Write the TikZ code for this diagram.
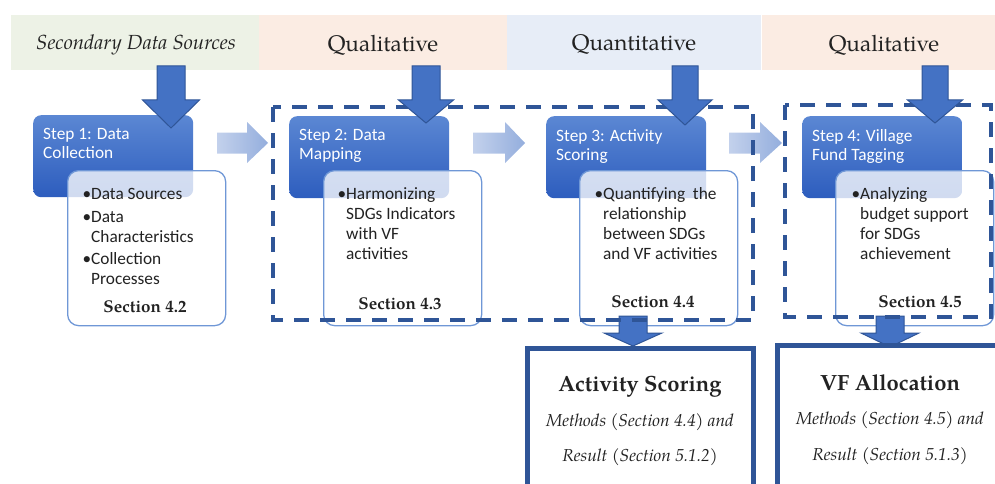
\documentclass[tikz,border=0pt]{standalone}
\usepackage{fontspec}
\newfontfamily\calib{Carlito}
\newfontfamily\palfont{TeX Gyre Pagella}
\definecolor{bandgreen}{HTML}{EDF2E6}
\definecolor{bandpeach}{HTML}{FBECE3}
\definecolor{bandblue}{HTML}{E7EDF7}
\definecolor{arrowblue}{HTML}{4472C4}
\definecolor{arrowedge}{HTML}{2F5597}
\definecolor{steptop}{HTML}{5B87D3}
\definecolor{stepbot}{HTML}{2D5DBE}
\definecolor{wbord}{HTML}{6F97D6}
\definecolor{dashblue}{HTML}{2F5597}
\definecolor{lighta}{HTML}{C3D1EC}
\definecolor{lightb}{HTML}{94AEDD}
\definecolor{txt}{HTML}{222222}
\tikzset{
  band/.style={draw=none, minimum height=55, inner sep=0, anchor=north west},
  headtext/.style={font=\palfont\fontsize{22.5}{26}\selectfont, text=txt},
  stepbox/.style={rounded corners=8, top color=steptop, bottom color=stepbot, draw=none,
     minimum width=160, minimum height=82, anchor=north west, inner sep=0},
  steptext/.style={font=\calib\fontsize{17.3}{19}\selectfont, text=white, align=left, anchor=north west, inner sep=0},
  whitebox/.style={rounded corners=11, fill=white, fill opacity=0.78, draw=wbord, line width=1.3,
     minimum width=158, minimum height=155, anchor=north west, inner sep=0},
  listtext/.style={font=\calib\fontsize{17.3}{20}\selectfont, text=txt, align=left, anchor=north west, inner sep=0},
  seclabel/.style={font=\palfont\bfseries\fontsize{17}{20}\selectfont, text=txt, inner sep=0},
  lightarrow/.style={left color=lighta, right color=lightb, draw=none},
  darrow/.style={fill=arrowblue, draw=arrowedge, line width=1},
  dashbox/.style={draw=dashblue, line width=4, dash pattern=on 15 off 11},
  resbox/.style={draw=dashblue, line width=5, fill=white},
  restitle/.style={font=\palfont\bfseries\fontsize{22}{26}\selectfont, text=txt, inner sep=0},
  resital/.style={font=\palfont\itshape\fontsize{17.3}{20}\selectfont, text=txt, inner sep=0},
}
\newcommand\bul{\makebox[8.7pt][l]{•}}
\newcommand\myDarrow[6]{%
  \draw[darrow] ({#1-#5},#2) -- ({#1+#5},#2) -- ({#1+#5},#3) -- ({#1+#6},#3) -- (#1,#4)
     -- ({#1-#6},#3) -- ({#1-#5},#3) -- cycle;}
\newcommand\myHarrow[4]{%
  \path[lightarrow] (#1,{#4-10.5}) -- (#2,{#4-10.5}) -- (#2,{#4-21}) -- (#3,#4) -- (#2,{#4+20})
     -- (#2,{#4+10.5}) -- (#1,{#4+10.5}) -- cycle;}
\begin{document}
\begin{tikzpicture}[x=1pt,y=-1pt]
\useasboundingbox (0,0) rectangle (995,484);
\clip (0,0) rectangle (995,484);
% header bands
\node[band, fill=bandgreen, minimum width=248] (b1) at (11,15) {};
\node[band, fill=bandpeach, minimum width=248] (b2) at (259,15) {};
\node[band, fill=bandblue, minimum width=254] (b3) at (507,15) {};
\node[band, fill=bandpeach, minimum width=236] (b4) at (762,15) {};
\node[headtext, font=\palfont\itshape\fontsize{20.4}{26}\selectfont] (h1) at (136,45) {Secondary Data Sources};
\node[headtext] (h2) at (383,45) {Qualitative};
\node[headtext] (h3) at (634,45) {Quantitative};
\node[headtext] (h4) at (884,45) {Qualitative};
% step boxes
\node[stepbox] (s1) at (33,115) {};
\node[stepbox] (s2) at (289,116) {};
\node[stepbox] (s3) at (546,116) {};
\node[stepbox] (s4) at (802,116) {};
\node[steptext] (t1) at ([shift={(10,13)}]s1.north west) {Step 1: Data\\Collection};
\node[steptext] (t2) at ([shift={(10,13)}]s2.north west) {Step 2: Data\\Mapping};
\node[steptext] (t3) at ([shift={(10,13)}]s3.north west) {Step 3: Activity\\Scoring};
\node[steptext] (t4) at ([shift={(10,13)}]s4.north west) {Step 4: Village\\Fund Tagging};
% white boxes
\node[whitebox] (w1) at (67,170) {};
\node[whitebox] (w2) at (323,170) {};
\node[whitebox] (w3) at (579,170) {};
\node[whitebox] (w4) at (835,170) {};
\node[listtext] (l1) at ([shift={(15.3,15)}]w1.north west)
 {\begin{tabular}{@{}l@{}l@{}}\bul&Data Sources\\[3pt]
  \bul&Data\\ &Characteristics\\[2pt] \bul&Collection\\ &Processes\end{tabular}};
\node[listtext] (l2) at ([shift={(14.3,15)}]w2.north west)
 {\begin{tabular}{@{}l@{}l@{}}\bul&Harmonizing\\ &SDGs Indicators\\ &with VF\\ &activities\end{tabular}};
\node[listtext] (l3) at ([shift={(15.3,15)}]w3.north west)
 {\begin{tabular}{@{}l@{}l@{}}\bul&Quantifying~ the\\ &relationship\\ &between SDGs\\ &and VF activities\end{tabular}};
\node[listtext] (l4) at ([shift={(16.3,15)}]w4.north west)
 {\begin{tabular}{@{}l@{}l@{}}\bul&Analyzing\\ &budget support\\ &for SDGs\\ &achievement\end{tabular}};
\node[seclabel] (c1) at (145,307) {Section 4.2};
\node[seclabel] (c2) at (400,304) {Section 4.3};
\node[seclabel] (c3) at (653,302) {Section 4.4};
\node[seclabel] (c4) at (920,302) {Section 4.5};
% light horizontal arrows
\myHarrow{217}{247}{268}{143}
\myHarrow{473}{505}{525}{143}
\myHarrow{729}{760}{782}{143}
% bottom arrows
\myDarrow{633}{316}{333}{346}{14}{29}
\myDarrow{890}{316}{333}{347}{14}{29}
% dashed boxes
\draw[dashbox] (273,107) rectangle (753,320);
\draw[dashbox] (785,105) rectangle (991,317);
% header arrows
\myDarrow{171}{66}{100}{128}{14}{28.5}
\myDarrow{426}{66}{100}{123}{14}{27.5}
\myDarrow{685}{66}{100}{125}{13}{27}
\myDarrow{935}{66}{100}{123}{13}{27.5}
% result boxes
\draw[resbox] (527,348) rectangle (753,520);
\draw[resbox] (777,345) rectangle (1020,520);
\node[restitle] (r1) at (640,387) {Activity Scoring};
\node[resital] (r1a) at (640,422) {Methods (Section 4.4) and};
\node[resital] (r1b) at (640,457) {Result (Section 5.1.2)};
\node[restitle] (r2) at (890,383) {VF Allocation};
\node[resital] (r2a) at (890,420) {Methods (Section 4.5) and};
\node[resital] (r2b) at (890,456) {Result (Section 5.1.3)};
\end{tikzpicture}
\end{document}
